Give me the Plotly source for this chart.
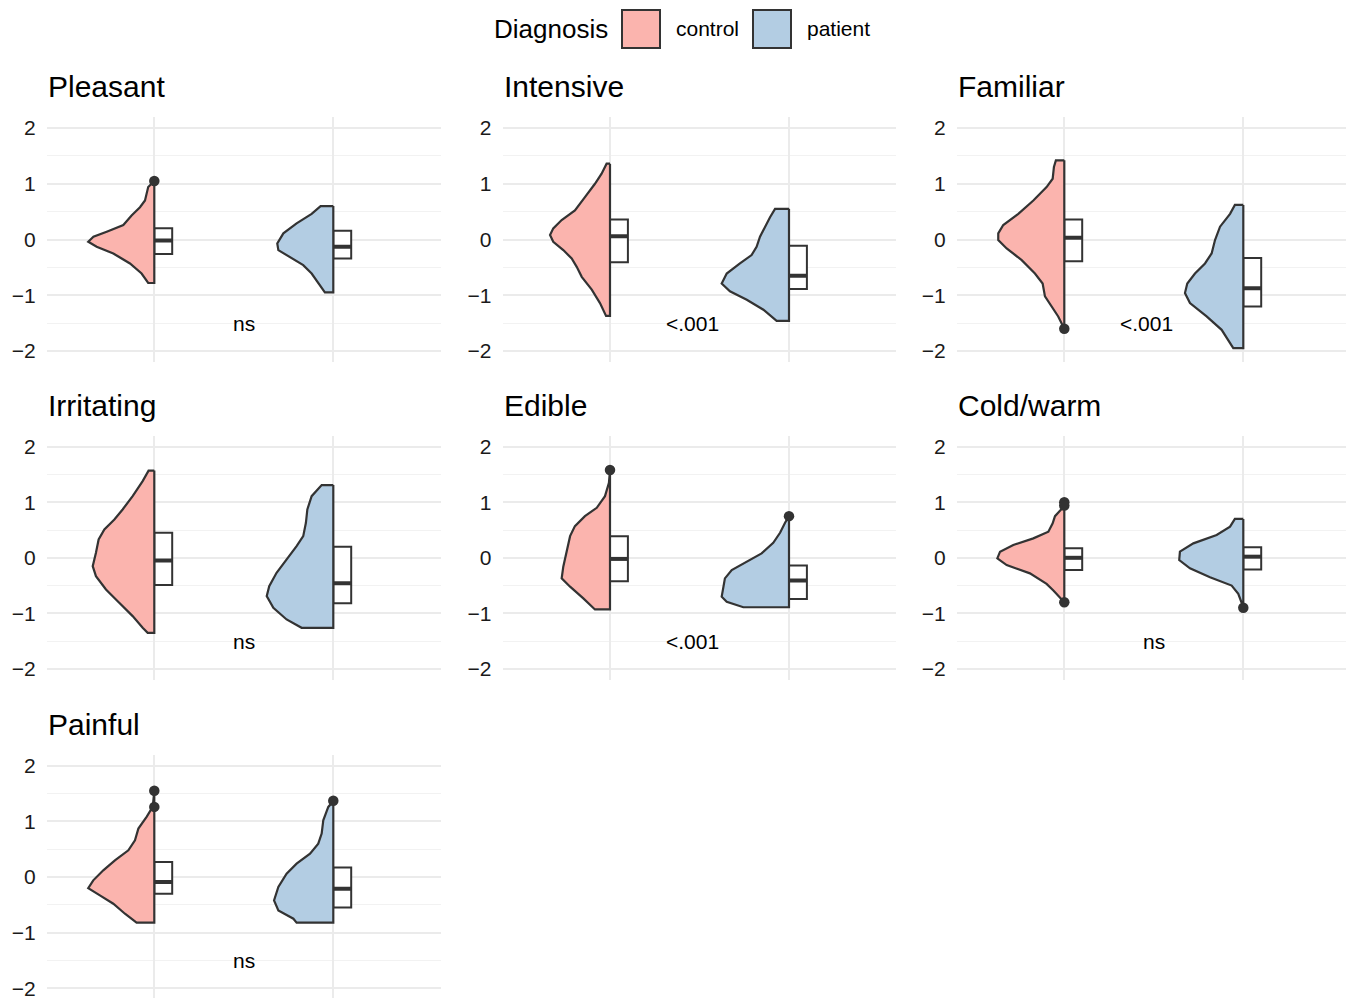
import plotly.graph_objects as go

# ---------------- data ----------------
facets = ["Pleasant", "Intensive", "Familiar", "Irritating", "Edible", "Cold/warm", "Painful"]
groups = ["control", "patient"]
p_labels = ["ns", "<.001", "<.001", "ns", "<.001", "ns", "ns"]
y_ticks = [-2, -1, 0, 1, 2]
y_tick_text = ["\u22122", "\u22121", "0", "1", "2"]

# half-violin outlines: y values (top to bottom) and density half-widths
pleasant_ctrl_y = [1.05, 0.94, 0.70, 0.58, 0.43, 0.26, 0.14, 0.05, -0.04, -0.13, -0.25, -0.43, -0.61, -0.78]
pleasant_ctrl_w = [0.0, 0.034, 0.052, 0.08, 0.127, 0.173, 0.266, 0.34, 0.369, 0.322, 0.229, 0.136, 0.071, 0.034]
pleasant_pat_y = [0.6, 0.46, 0.29, 0.11, -0.07, -0.19, -0.31, -0.46, -0.61, -0.79, -0.95]
pleasant_pat_w = [0.071, 0.121, 0.205, 0.279, 0.313, 0.307, 0.242, 0.168, 0.121, 0.084, 0.047]

intensive_ctrl_y = [1.36, 1.18, 1.0, 0.76, 0.52, 0.35, 0.2, 0.08, -0.04, -0.19, -0.34, -0.49, -0.67, -0.9, -1.14, -1.37]
intensive_ctrl_w = [0.019, 0.047, 0.084, 0.14, 0.196, 0.27, 0.317, 0.335, 0.317, 0.261, 0.214, 0.186, 0.158, 0.102, 0.056, 0.022]
intensive_pat_y = [0.55, 0.4, 0.23, 0.05, -0.13, -0.28, -0.43, -0.61, -0.79, -0.93, -1.08, -1.26, -1.46]
intensive_pat_w = [0.078, 0.106, 0.134, 0.162, 0.181, 0.209, 0.274, 0.348, 0.376, 0.33, 0.236, 0.143, 0.069]

familiar_ctrl_y = [1.42, 1.3, 1.09, 0.94, 0.7, 0.46, 0.26, 0.11, -0.01, -0.16, -0.37, -0.61, -0.79, -1.02, -1.2, -1.38, -1.6]
familiar_ctrl_w = [0.047, 0.058, 0.065, 0.099, 0.173, 0.257, 0.341, 0.369, 0.369, 0.322, 0.238, 0.164, 0.121, 0.108, 0.071, 0.034, 0.0]
familiar_pat_y = [0.62, 0.46, 0.23, -0.01, -0.25, -0.43, -0.61, -0.79, -0.96, -1.14, -1.38, -1.62, -1.8, -1.95]
familiar_pat_w = [0.047, 0.074, 0.13, 0.158, 0.177, 0.214, 0.27, 0.313, 0.326, 0.298, 0.205, 0.121, 0.084, 0.056]

irritating_ctrl_y = [1.57, 1.38, 1.11, 0.87, 0.69, 0.51, 0.33, 0.09, -0.15, -0.33, -0.57, -0.81, -1.05, -1.26, -1.35]
irritating_ctrl_w = [0.032, 0.065, 0.121, 0.177, 0.223, 0.279, 0.311, 0.326, 0.344, 0.326, 0.27, 0.196, 0.121, 0.065, 0.037]
irritating_pat_y = [1.31, 1.11, 0.87, 0.63, 0.39, 0.21, -0.03, -0.27, -0.51, -0.69, -0.9, -1.11, -1.26]
irritating_pat_w = [0.065, 0.121, 0.145, 0.153, 0.168, 0.205, 0.261, 0.317, 0.358, 0.372, 0.335, 0.261, 0.177]

edible_ctrl_y = [1.58, 1.35, 1.11, 0.9, 0.75, 0.57, 0.39, 0.08, -0.16, -0.37, -0.52, -0.73, -0.93]
edible_ctrl_w = [0.0, 0.006, 0.028, 0.074, 0.14, 0.196, 0.223, 0.246, 0.261, 0.27, 0.223, 0.149, 0.084]
edible_pat_y = [0.75, 0.63, 0.45, 0.27, 0.08, -0.07, -0.22, -0.37, -0.52, -0.7, -0.79, -0.89]
edible_pat_w = [0.0, 0.022, 0.05, 0.088, 0.153, 0.237, 0.32, 0.358, 0.367, 0.376, 0.348, 0.255]

coldwarm_ctrl_y = [1.0, 0.9, 0.75, 0.62, 0.47, 0.35, 0.23, 0.11, -0.01, -0.13, -0.28, -0.47, -0.59, -0.71, -0.8]
coldwarm_ctrl_w = [0.0, 0.009, 0.052, 0.065, 0.089, 0.173, 0.285, 0.359, 0.374, 0.322, 0.192, 0.099, 0.061, 0.028, 0.0]
coldwarm_pat_y = [0.7, 0.56, 0.41, 0.26, 0.11, -0.04, -0.19, -0.35, -0.5, -0.65, -0.89]
coldwarm_pat_w = [0.047, 0.074, 0.149, 0.279, 0.354, 0.358, 0.298, 0.186, 0.065, 0.028, 0.0]

painful_ctrl_y = [1.54, 1.26, 1.08, 0.87, 0.66, 0.48, 0.3, 0.12, -0.06, -0.2, -0.33, -0.48, -0.66, -0.82]
painful_ctrl_w = [0.0, 0.009, 0.043, 0.089, 0.108, 0.145, 0.22, 0.285, 0.341, 0.369, 0.304, 0.229, 0.164, 0.099]
painful_pat_y = [1.36, 1.26, 1.02, 0.78, 0.6, 0.42, 0.24, 0.06, -0.18, -0.42, -0.6, -0.75, -0.82]
painful_pat_w = [0.0, 0.028, 0.056, 0.065, 0.084, 0.13, 0.205, 0.261, 0.307, 0.331, 0.307, 0.223, 0.205]

# box statistics per facet
ctrl_q1 = [-0.26, -0.41, -0.39, -0.49, -0.42, -0.22, -0.30]
ctrl_med = [-0.02, 0.06, 0.03, -0.05, -0.02, 0.0, -0.09]
ctrl_q3 = [0.20, 0.36, 0.36, 0.45, 0.39, 0.17, 0.27]
pat_q1 = [-0.34, -0.89, -1.20, -0.82, -0.74, -0.21, -0.55]
pat_med = [-0.13, -0.65, -0.875, -0.46, -0.41, 0.02, -0.21]
pat_q3 = [0.155, -0.11, -0.33, 0.20, -0.14, 0.19, 0.17]

# outliers per facet
ctrl_outliers = [[1.05], [], [-1.6], [], [1.58], [1.0, 0.94, -0.8], [1.55, 1.26]]
pat_outliers = [[], [], [], [], [0.75], [-0.9], [1.37]]

# ---------------- build ----------------
ctrl_outlines = [
    (pleasant_ctrl_y, pleasant_ctrl_w), (intensive_ctrl_y, intensive_ctrl_w),
    (familiar_ctrl_y, familiar_ctrl_w), (irritating_ctrl_y, irritating_ctrl_w),
    (edible_ctrl_y, edible_ctrl_w), (coldwarm_ctrl_y, coldwarm_ctrl_w),
    (painful_ctrl_y, painful_ctrl_w)]
pat_outlines = [
    (pleasant_pat_y, pleasant_pat_w), (intensive_pat_y, intensive_pat_w),
    (familiar_pat_y, familiar_pat_w), (irritating_pat_y, irritating_pat_w),
    (edible_pat_y, edible_pat_w), (coldwarm_pat_y, coldwarm_pat_w),
    (painful_pat_y, painful_pat_w)]

FILL = {"control": "#FBB4AE", "patient": "#B3CDE3"}
DARK = "#333333"
FONT = "Liberation Sans, Arial, Helvetica, sans-serif"
OFF = 8  # page body margin
W, H = 1354 - OFF, 1012 - OFF
BOXW = 0.1

def px_x(p):
    return (p - OFF) / W

def px_y(p):
    return 1 - (p - OFF) / H

col_px = [(46.9, 440.7), (502.6, 896.4), (956.9, 1350.7)]
row_px = [(116.85, 362.15), (435.6, 680.0), (754.6, 999.4)]
y_range = [-2.2, 2.2]

fig = go.Figure()
layout_axes = {}
annotations = []

for i, name in enumerate(facets):
    r, c = divmod(i, 3)
    xa = "x" if i == 0 else f"x{i+1}"
    ya = "y" if i == 0 else f"y{i+1}"
    stats = [(ctrl_q1[i], ctrl_med[i], ctrl_q3[i]), (pat_q1[i], pat_med[i], pat_q3[i])]
    outl = [ctrl_outliers[i], pat_outliers[i]]
    for g, (gname, (vy, vw)) in enumerate(zip(groups, [ctrl_outlines[i], pat_outlines[i]])):
        cx = g + 1
        xs = [cx] + [cx - w for w in vw] + [cx, cx]
        ys = [vy[0]] + list(vy) + [vy[-1], vy[0]]
        fig.add_trace(go.Scatter(x=xs, y=ys, xaxis=xa, yaxis=ya, mode="lines",
                                 fill="toself", fillcolor=FILL[gname],
                                 line=dict(color=DARK, width=2.2),
                                 showlegend=False, hoverinfo="skip"))
        q1, md, q3 = stats[g]
        fig.add_trace(go.Box(x=[cx + BOXW / 2], q1=[q1], median=[md], q3=[q3],
                             lowerfence=[q1], upperfence=[q3], width=BOXW,
                             xaxis=xa, yaxis=ya, fillcolor="white",
                             line=dict(color=DARK, width=2.0), whiskerwidth=0,
                             boxpoints=False, showlegend=False, hoverinfo="skip"))
        fig.add_trace(go.Scatter(x=[cx, cx + BOXW], y=[md, md], xaxis=xa, yaxis=ya,
                                 mode="lines", line=dict(color=DARK, width=4.0),
                                 showlegend=False, hoverinfo="skip"))
        if outl[g]:
            fig.add_trace(go.Scatter(x=[cx] * len(outl[g]), y=outl[g], xaxis=xa, yaxis=ya,
                                     mode="markers", marker=dict(color=DARK, size=10.5),
                                     showlegend=False, hoverinfo="skip"))
    x0, x1 = col_px[c]
    yt, yb = row_px[r]
    layout_axes["xaxis" if i == 0 else f"xaxis{i+1}"] = dict(
        domain=[px_x(x0), px_x(x1)], range=[0.4, 2.6], anchor=ya,
        tickvals=[1, 2], showticklabels=False, showgrid=True,
        gridcolor="#EBEBEB", gridwidth=2.0, zeroline=False, showline=False, ticks="")
    layout_axes["yaxis" if i == 0 else f"yaxis{i+1}"] = dict(
        domain=[px_y(yb), px_y(yt)], range=y_range, anchor=xa,
        tickvals=y_ticks, ticktext=y_tick_text, showgrid=True,
        gridcolor="#EBEBEB", gridwidth=2.0, zeroline=False, showline=False,
        ticks="outside", ticklen=6, tickcolor="rgba(0,0,0,0)",
        tickfont=dict(size=21, color="#1a1a1a", family=FONT),
        minor=dict(tickvals=[-1.5, -0.5, 0.5, 1.5], showgrid=True,
                   gridcolor="#F2F2F2", gridwidth=1.2, ticks=""))
    # facet title
    annotations.append(dict(text=name, xref="paper", yref="paper",
                            x=px_x(x0 - 1), y=px_y(yt - 12), xanchor="left", yanchor="bottom",
                            showarrow=False, font=dict(size=30, color="#000000", family=FONT)))
    # p-value label
    annotations.append(dict(text=p_labels[i], xref=xa, yref=ya, x=1.5, y=-1.5,
                            xanchor="center", yanchor="middle", showarrow=False,
                            xshift=-7 if p_labels[i].startswith("<") else 0,
                            font=dict(size=21, color="#000000", family=FONT)))

# manual legend
shapes = []
leg_boxes = [(622, 660), (753, 791)]
for (a, b), gname in zip(leg_boxes, groups):
    shapes.append(dict(type="rect", xref="paper", yref="paper",
                       x0=px_x(a), x1=px_x(b), y0=px_y(48), y1=px_y(10),
                       fillcolor=FILL[gname], line=dict(color=DARK, width=2.0)))
annotations.append(dict(text="Diagnosis", xref="paper", yref="paper", x=px_x(492), y=px_y(29),
                        xanchor="left", yanchor="middle", showarrow=False,
                        font=dict(size=26, color="#000000", family=FONT)))
for xpos, gname in zip([674, 805], groups):
    annotations.append(dict(text=gname, xref="paper", yref="paper", x=px_x(xpos), y=px_y(29),
                            xanchor="left", yanchor="middle", showarrow=False,
                            font=dict(size=21, color="#000000", family=FONT)))

fig.update_layout(width=W, height=H, margin=dict(l=0, r=0, t=0, b=0),
                  paper_bgcolor="white", plot_bgcolor="white",
                  showlegend=False, annotations=annotations, shapes=shapes,
                  font=dict(family=FONT), **layout_axes)

fig.write_html("out.html")
